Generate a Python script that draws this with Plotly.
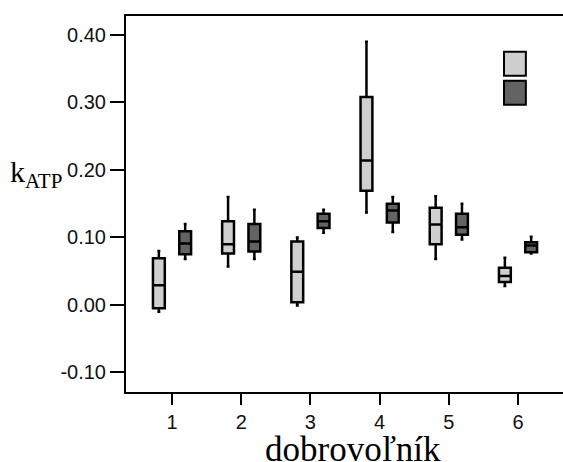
import plotly.graph_objects as go

categories = [1, 2, 3, 4, 5, 6]
tick_labels = ["1", "2", "3", "4", "5", "6"]
y_ticks = [-0.10, 0.00, 0.10, 0.20, 0.30, 0.40]
y_tick_labels = ["-0.10", "0.00", "0.10", "0.20", "0.30", "0.40"]

# series A (light grey)
a_low = [-0.010, 0.057, -0.001, 0.137, 0.068, 0.028]
a_q1 = [-0.005, 0.076, 0.004, 0.169, 0.090, 0.034]
a_med = [0.029, 0.090, 0.049, 0.214, 0.119, 0.043]
a_q3 = [0.069, 0.124, 0.094, 0.308, 0.144, 0.055]
a_high = [0.080, 0.160, 0.100, 0.390, 0.161, 0.070]

# series B (dark grey)
b_low = [0.068, 0.068, 0.107, 0.108, 0.097, 0.076]
b_q1 = [0.075, 0.079, 0.114, 0.122, 0.104, 0.078]
b_med = [0.091, 0.094, 0.124, 0.140, 0.115, 0.088]
b_q3 = [0.109, 0.120, 0.135, 0.150, 0.135, 0.093]
b_high = [0.120, 0.141, 0.141, 0.160, 0.150, 0.101]

LIGHT = "#cfcfcf"
DARK = "#636363"

fig = go.Figure()
for low, q1, med, q3, high, col in [
    (a_low, a_q1, a_med, a_q3, a_high, LIGHT),
    (b_low, b_q1, b_med, b_q3, b_high, DARK),
]:
    fig.add_trace(go.Box(
        x=categories, lowerfence=low, q1=q1, median=med, q3=q3, upperfence=high,
        fillcolor=col, line=dict(color="black", width=2.5), whiskerwidth=0.25,
        showlegend=False, hoverinfo="skip",
    ))

# legend keys
for (y0, y1, col) in [(0.841, 0.905, LIGHT), (0.764, 0.828, DARK)]:
    fig.add_shape(type="rect", xref="paper", yref="paper", x0=0.865, x1=0.915,
                  y0=y0, y1=y1, fillcolor=col, line=dict(color="black", width=2))

tick_font = dict(family="Liberation Sans, Arial", size=20, color="#111")

fig.update_layout(
    width=563, height=462,
    margin=dict(l=126, r=0, t=16, b=70),
    paper_bgcolor="white", plot_bgcolor="white",
    boxmode="group", boxgap=0.24, boxgroupgap=0.55,
    xaxis=dict(range=[0.335, 6.65], tickvals=categories, ticktext=tick_labels,
               showgrid=False, zeroline=False, showline=True, linecolor="black", linewidth=2,
               mirror=True, ticks="outside", ticklen=11, tickwidth=2, tickcolor="black",
               tickfont=tick_font),
    yaxis=dict(range=[-0.129, 0.428], tickvals=y_ticks, ticktext=y_tick_labels,
               showgrid=False, zeroline=False, showline=True, linecolor="black", linewidth=2,
               ticks="outside", ticklen=14, tickwidth=2, tickcolor="black",
               tickfont=tick_font),
    annotations=[
        dict(text="k<sub>ATP</sub>", xref="paper", yref="paper", x=-0.27, y=0.58,
             xanchor="left", yanchor="middle", showarrow=False,
             font=dict(family="Liberation Serif, Times New Roman", size=30, color="black")),
        dict(text="dobrovoľník", xref="paper", yref="paper", x=0.52, y=-0.097,
             xanchor="center", yanchor="top", showarrow=False,
             font=dict(family="Liberation Serif, Times New Roman", size=35, color="black")),
    ],
)

fig.write_html("out.html", config={"displayModeBar": False},
               post_script="document.body.style.margin='0';")
